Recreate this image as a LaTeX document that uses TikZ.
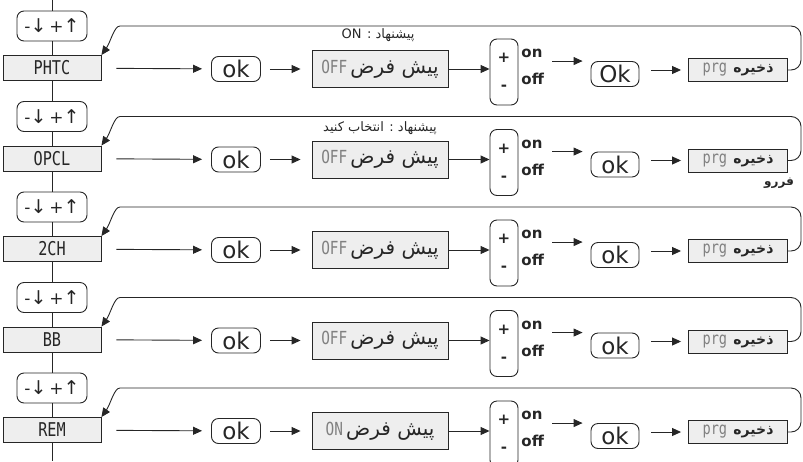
\documentclass[tikz,border=0pt]{standalone}
\usepackage{fontspec}
\setmainfont{DejaVu Sans}
\newfontfamily\arabicfont[Script=Arabic]{DejaVu Sans}
\newfontfamily\segfont[FakeStretch=0.8]{DejaVu Sans Mono}
\TeXXeTstate=1
\usetikzlibrary{arrows.meta}
\definecolor{boxgray}{HTML}{EEEEEE}
\definecolor{txtgray}{HTML}{808080}
\newcommand{\pishfarz}[1]{{\segfont\fontsize{18}{18}\selectfont\color{txtgray}#1}\ {\arabicfont\fontsize{20}{20}\selectfont\beginR پیش فرض\endR}}
\newcommand{\zakhire}{{\segfont\fontsize{17}{17}\selectfont\color{txtgray}prg}\ \ {\arabicfont\bfseries\fontsize{14}{14}\selectfont\beginR ذخیره\endR}}
\newcommand{\updown}{-{\fontsize{19}{19}\selectfont↓}\,+{\fontsize{19}{19}\selectfont↑}}
\tikzset{keybox/.style={draw, rounded corners=7pt, minimum width=70pt, minimum height=30pt, inner sep=0pt, font=\fontsize{17}{17}\selectfont},
namebox/.style={draw, fill=boxgray, minimum width=98pt, minimum height=25pt, inner sep=0pt, font=\segfont\fontsize{19}{19}\selectfont},
okbox/.style={draw, rounded corners=7pt, minimum width=49pt, minimum height=25pt, inner sep=0pt, font=\fontsize{23}{23}\selectfont},
defbox/.style={draw, fill=boxgray, minimum width=136pt, minimum height=37pt, inner sep=0pt},
pmbox/.style={draw, rounded corners=7pt, minimum width=28pt, minimum height=66pt, inner sep=0pt, align=center, font=\bfseries\fontsize{15}{28}\selectfont},
onoff/.style={anchor=west, align=left, inner sep=0pt, font=\bfseries\fontsize{15}{27}\selectfont},
savebox/.style={draw, fill=boxgray, minimum width=99pt, minimum height=23pt, inner sep=0pt},
hint/.style={inner sep=0pt, font=\arabicfont\fontsize{13}{13}\selectfont},
arr/.style={-{Triangle[length=9pt,width=8pt]}},
fb/.style={arr, rounded corners=10pt}}

\begin{document}
\begin{tikzpicture}[x=1pt,y=-1pt,line width=0.9pt,color=black!85]
\useasboundingbox (0,0) rectangle (803,461);
\coordinate (name0) at (52,0);
\foreach \r/\nm/\dv/\okt in {1/PHTC/OFF/Ok,2/OPCL/OFF/ok,3/2CH/OFF/ok,4/BB/OFF/ok,5/REM/ON/ok}{
\pgfmathsetmacro{\Y}{68+90.5*(\r-1)}
\pgfmathtruncatemacro{\p}{\r-1}
\node[keybox] (key\r) at (52,\Y-42) {\updown};
\node[namebox] (name\r) at (52,\Y) {\nm};
\node[okbox] (ok\r) at (236,\Y+1) {ok};
\node[defbox] (def\r) at (380,\Y+1) {\pishfarz{\dv}};
\node[pmbox] (pm\r) at (504,\Y+4) {+\\-};
\node[onoff] (onoff\r) at (521,\Y-1) {on\\off};
\node[okbox, minimum width=48pt] (okk\r) at (615,\Y+6) {\okt};
\node[savebox] (save\r) at (738,\Y+2) {\zakhire};
\coordinate (edge\r) at (801,\Y-42);
\coordinate (top\r) at (130,\Y-42);
\draw (name\p) -- (key\r);
\draw (key\r) -- (name\r);
\draw[arr, shorten <=15pt, shorten >=9pt] (name\r) -- (ok\r);
\draw[arr, shorten <=9pt, shorten >=11pt] (ok\r) -- (def\r);
\draw[arr] (def\r.east) -- (def\r.east -| pm\r.west);
\draw[arr, shorten <=8pt, shorten >=8pt] (onoff\r.east |- okk\r.north) -- (okk\r.north west);
\draw[arr, shorten <=12pt, shorten >=7pt] (okk\r.east |- save\r.west) -- (save\r.west);
\draw[fb] (save\r.east) -| (edge\r) -- (top\r) to[out=180,in=55] (name\r.north east);
}
\coordinate (foot) at (52,461);
\draw (name5) -- (foot);
\node[hint] (hint1) at (378,35) {\beginR پیشنهاد : \beginL ON\endL\endR};
\node[hint] (hint2) at (380,128) {\beginR پیشنهاد : انتخاب کنید\endR};
\node[hint, font=\arabicfont\bfseries\fontsize{12}{12}\selectfont] (farro) at (779,183) {\beginR فررو\endR};
\end{tikzpicture}
\end{document}
